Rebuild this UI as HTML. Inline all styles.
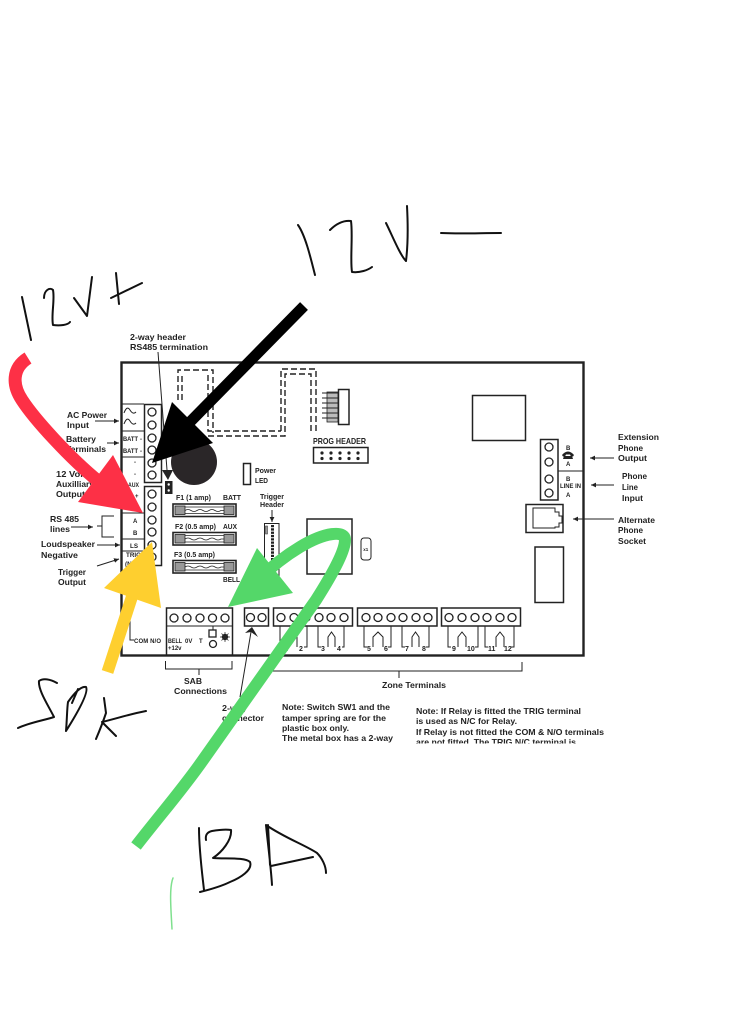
<!DOCTYPE html>
<html><head><meta charset="utf-8"><style>
html,body{margin:0;padding:0;background:#fff;width:750px;height:1024px;overflow:hidden}
svg{display:block;filter:blur(.3px)}
text{font-family:"Liberation Sans",sans-serif;font-weight:bold;font-size:8.5px;fill:#222}
.s{font-size:6px}
.n{font-size:7px}
.hw{fill:none;stroke:#111;stroke-width:2;stroke-linecap:round;stroke-linejoin:round}
.l{fill:none;stroke:#222;stroke-width:1}
.b{fill:#fff;stroke:#222;stroke-width:1.5}
.c{fill:#fff;stroke:#222;stroke-width:1.3}
.d{fill:none;stroke:#222;stroke-width:1.4;stroke-dasharray:6 3}
</style></head><body>
<svg width="750" height="1024" viewBox="0 0 750 1024" xmlns="http://www.w3.org/2000/svg">
<defs>
<clipPath id="nc"><rect x="270" y="695" width="350" height="48.500"/></clipPath>
<g id="fuse">
<rect x="0" y="0" width="63" height="12.5" fill="#fff" stroke="#222" stroke-width="1.6"/>
<rect x="2" y="2" width="10" height="8.5" fill="#999" stroke="#222" stroke-width=".8"/>
<rect x="51" y="2" width="10" height="8.5" fill="#999" stroke="#222" stroke-width=".8"/>
<path d="M12,3 H51 M12,9.5 H51" stroke="#222" stroke-width=".8" fill="none"/>
<path d="M12,6.5 q3,-2 6,0 t6,0 t6,0 t6,0 t6,0 t6,0 h3" stroke="#222" stroke-width=".8" fill="none"/>
</g>
<marker id="a" markerWidth="6" markerHeight="6" refX="5" refY="3" orient="auto"><path d="M0,.6 L5,3 L0,5.4 Z" fill="#222"/></marker>
</defs>

<!-- board -->
<rect x="121.5" y="362.5" width="462" height="293" fill="#fff" stroke="#222" stroke-width="2.4"/>

<!-- left panel -->
<path class="l" d="M121,404 H144 M121,431 H144 M121,457 H144 M121,513 H144 M121,539 H144 M121,551 H144"/>
<path class="l" stroke-width="1.2" d="M124,413 q3,-8 6,-3 t6,2 M124,424 q3,-8 6,-3 t6,2"/>
<rect class="b" x="144.5" y="404.5" width="17" height="78"/>
<rect class="b" x="144.5" y="486.5" width="17" height="79"/>
<g class="c">
<circle class="c" cx="152" cy="412" r="4"/><circle class="c" cx="152" cy="425" r="4"/><circle class="c" cx="152" cy="438" r="4"/><circle class="c" cx="152" cy="450" r="4"/><circle class="c" cx="152" cy="463" r="4"/><circle class="c" cx="152" cy="475" r="4"/>
<circle class="c" cx="152" cy="494" r="4"/><circle class="c" cx="152" cy="507" r="4"/><circle class="c" cx="152" cy="520" r="4"/><circle class="c" cx="152" cy="532" r="4"/><circle class="c" cx="152" cy="545" r="4"/><circle class="c" cx="152" cy="557" r="4"/>
</g>
<text class="s" x="123" y="441" textLength="15" lengthAdjust="spacingAndGlyphs">BATT</text><text class="s" x="140" y="441">-</text>
<text class="s" x="123" y="453" textLength="15" lengthAdjust="spacingAndGlyphs">BATT</text><text class="s" x="140" y="453">-</text>
<text class="s" x="134" y="464">-</text><text class="s" x="134" y="476">-</text>
<text class="s" x="128" y="487" textLength="11" lengthAdjust="spacingAndGlyphs">AUX</text>
<text class="s" x="135" y="498">+</text>
<text class="s" x="133" y="523">A</text><text class="s" x="133" y="535">B</text>
<text class="s" x="130" y="548" textLength="8" lengthAdjust="spacingAndGlyphs">LS</text>
<text class="s" x="126" y="557" textLength="15" lengthAdjust="spacingAndGlyphs">TRIG</text>
<text class="s" x="125" y="566" textLength="15" lengthAdjust="spacingAndGlyphs">(N/C)</text>
<path class="l" d="M130,590 V640 H134"/>
<text class="s" x="134" y="643" textLength="27" lengthAdjust="spacing">COM N/O</text>

<!-- left labels -->
<text x="67" y="418" textLength="40" lengthAdjust="spacingAndGlyphs">AC Power</text>
<text x="67" y="428" textLength="22" lengthAdjust="spacingAndGlyphs">Input</text>
<text x="66" y="442" textLength="30" lengthAdjust="spacingAndGlyphs">Battery</text>
<text x="66" y="452" textLength="40" lengthAdjust="spacingAndGlyphs">Terminals</text>
<text x="56" y="477" textLength="30" lengthAdjust="spacingAndGlyphs">12 Volt</text>
<text x="56" y="487" textLength="38" lengthAdjust="spacingAndGlyphs">Auxilliary</text>
<text x="56" y="497" textLength="29" lengthAdjust="spacingAndGlyphs">Output</text>
<text x="50" y="522" textLength="29" lengthAdjust="spacingAndGlyphs">RS 485</text>
<text x="50" y="532" textLength="20" lengthAdjust="spacingAndGlyphs">lines</text>
<text x="41" y="547" textLength="54" lengthAdjust="spacingAndGlyphs">Loudspeaker</text>
<text x="41" y="558" textLength="37" lengthAdjust="spacingAndGlyphs">Negative</text>
<text x="58" y="575" textLength="28" lengthAdjust="spacingAndGlyphs">Trigger</text>
<text x="58" y="585" textLength="28" lengthAdjust="spacingAndGlyphs">Output</text>
<text x="130" y="340" textLength="56" lengthAdjust="spacingAndGlyphs">2-way header</text>
<text x="130" y="350" textLength="78" lengthAdjust="spacingAndGlyphs">RS485 termination</text>
<path class="l" marker-end="url(#a)" d="M95,421 H119"/>
<path class="l" marker-end="url(#a)" d="M107,443 H119"/>
<path class="l" marker-end="url(#a)" d="M71,527 H93"/>
<path class="l" d="M97,526 H102 M114,516 H102 V537 H114"/>
<path class="l" marker-end="url(#a)" d="M97,545 H120"/>
<path class="l" marker-end="url(#a)" d="M97,566 L119,559"/>

<!-- RS485 header -->
<path class="l" d="M158,352 L167,470"/>
<path d="M162,470 H173 L168,480 Z" fill="#222"/>
<rect x="165" y="481" width="7.5" height="13" fill="#222"/>
<circle cx="168.7" cy="484.5" r="1.2" fill="#fff"/><circle cx="168.7" cy="490.5" r="1.2" fill="#fff"/>

<circle cx="194" cy="462" r="23" fill="#2a2628"/>

<!-- dashed -->
<path class="d" d="M178,400 V370 H213 V433"/>
<path class="d" d="M182,400 V375 M208,375 V431 H281 M208,436 H285 V374 H311 V432 M281,431 V369 H316 V432"/>

<!-- prog -->
<rect x="327" y="392" width="11" height="30" fill="#bbb" stroke="#222" stroke-width=".8"/>
<path class="l" d="M322,393 H338 M322,398 H338 M322,403 H338 M322,408 H338 M322,413 H338 M322,418 H338"/>
<rect class="b" x="338.5" y="389.5" width="10.5" height="35" stroke-width="1.2"/>
<text x="313" y="444" textLength="53" lengthAdjust="spacingAndGlyphs">PROG HEADER</text>
<rect class="b" x="313.5" y="447.5" width="54.5" height="15.5" stroke-width="1.2"/>
<g fill="#222">
<circle cx="322" cy="453" r="1.6"/><circle cx="331" cy="453" r="1.6"/><circle cx="340" cy="453" r="1.6"/><circle cx="349" cy="453" r="1.6"/><circle cx="358" cy="453" r="1.6"/>
<circle cx="322" cy="458.5" r="1.6"/><circle cx="331" cy="458.5" r="1.6"/><circle cx="340" cy="458.5" r="1.6"/><circle cx="349" cy="458.5" r="1.6"/><circle cx="358" cy="458.5" r="1.6"/>
</g>

<!-- LED -->
<rect class="b" x="243.5" y="463.5" width="7" height="21" stroke-width="1.2"/>
<text x="255" y="473" textLength="21" lengthAdjust="spacingAndGlyphs" style="font-size:7px">Power</text>
<text x="255" y="483" textLength="13" lengthAdjust="spacingAndGlyphs" style="font-size:7px">LED</text>

<!-- fuses -->
<use href="#fuse" x="173" y="504"/>
<use href="#fuse" x="173" y="532.5"/>
<use href="#fuse" x="173" y="560.5"/>
<text x="176" y="500" textLength="35" lengthAdjust="spacingAndGlyphs" style="font-size:7.5px">F1 (1 amp)</text>
<text x="223" y="500" textLength="18" lengthAdjust="spacingAndGlyphs" style="font-size:7.5px">BATT</text>
<text x="175" y="529" textLength="41" lengthAdjust="spacingAndGlyphs" style="font-size:7.5px">F2 (0.5 amp)</text>
<text x="223" y="529" textLength="14" lengthAdjust="spacingAndGlyphs" style="font-size:7.5px">AUX</text>
<text x="174" y="557" textLength="41" lengthAdjust="spacingAndGlyphs" style="font-size:7.5px">F3 (0.5 amp)</text>
<text x="223" y="582" textLength="17" lengthAdjust="spacingAndGlyphs" style="font-size:7.5px">BELL</text>

<!-- trigger header -->
<text x="260" y="499" textLength="24" lengthAdjust="spacingAndGlyphs" style="font-size:7px">Trigger</text>
<text x="260" y="507" textLength="24" lengthAdjust="spacingAndGlyphs" style="font-size:7px">Header</text>
<path class="l" marker-end="url(#a)" d="M272,510 V522"/>
<rect x="264.5" y="523.5" width="14.5" height="54" fill="#fff" stroke="#222" stroke-width="1"/>
<rect x="265.5" y="526" width="2" height="8" fill="#999" stroke="#222" stroke-width=".5"/>
<path d="M272.5,525 V572" stroke="#222" stroke-width="3" stroke-dasharray="2.3 1" fill="none"/>

<!-- chip -->
<rect class="b" x="307" y="519" width="45" height="55" stroke-width="1.2"/>
<rect x="361" y="538" width="10" height="22" rx="3" fill="#fff" stroke="#222" stroke-width="1"/>
<text x="363.3" y="551" style="font-size:4.5px">x1</text>

<!-- right -->
<rect class="b" x="472.5" y="395.5" width="53" height="45" stroke-width="1.2"/>
<rect class="b" x="540.5" y="439.5" width="17.5" height="60.5" stroke-width="1.3"/>
<circle class="c" cx="549" cy="447" r="4"/><circle class="c" cx="549" cy="462" r="4"/><circle class="c" cx="549" cy="479" r="4"/><circle class="c" cx="549" cy="493" r="4"/>
<path class="l" d="M558,471 H583"/>
<text class="s" x="566" y="450">B</text>
<path d="M562,455 q6,-7 12,0 l-1,1.5 h-2 l-1,-2 h-4 l-1,2 h-2 Z M564,456 h8 l1,3 h-10 Z" fill="#222"/>
<text class="s" x="566" y="466">A</text>
<text class="s" x="566" y="481">B</text>
<text class="s" x="560" y="488" textLength="21" lengthAdjust="spacingAndGlyphs">LINE IN</text>
<text class="s" x="566" y="497">A</text>
<rect class="b" x="526" y="504.5" width="37" height="28" stroke-width="1.3"/>
<path class="l" d="M533,508 H555 V512 H559 V516 H562 V523 H559 V527 H555 V528 H533 Z"/>
<rect class="b" x="535" y="547" width="28.5" height="55.5" stroke-width="1.2"/>
<text x="618" y="440" textLength="41" lengthAdjust="spacingAndGlyphs">Extension</text>
<text x="618" y="451" textLength="25" lengthAdjust="spacingAndGlyphs">Phone</text>
<text x="618" y="461" textLength="29" lengthAdjust="spacingAndGlyphs">Output</text>
<text x="622" y="479" textLength="25" lengthAdjust="spacingAndGlyphs">Phone</text>
<text x="622" y="490" textLength="16" lengthAdjust="spacingAndGlyphs">Line</text>
<text x="622" y="501" textLength="21" lengthAdjust="spacingAndGlyphs">Input</text>
<text x="618" y="523" textLength="37" lengthAdjust="spacingAndGlyphs">Alternate</text>
<text x="618" y="533" textLength="25" lengthAdjust="spacingAndGlyphs">Phone</text>
<text x="618" y="544" textLength="28" lengthAdjust="spacingAndGlyphs">Socket</text>
<path class="l" marker-end="url(#a)" d="M614,458 H590"/>
<path class="l" marker-end="url(#a)" d="M614,485 H591"/>
<path class="l" marker-end="url(#a)" d="M614,519 H573"/>

<!-- SAB -->
<rect class="b" x="166.5" y="608" width="66" height="47" stroke-width="1.2"/>
<path class="l" d="M166,626 H232" stroke-width="1.2"/>
<circle class="c" cx="174" cy="618" r="4"/><circle class="c" cx="187" cy="618" r="4"/><circle class="c" cx="200" cy="618" r="4"/><circle class="c" cx="212.500" cy="618" r="4"/><circle class="c" cx="225" cy="618" r="4"/>
<text class="s" x="168" y="643" textLength="14" lengthAdjust="spacingAndGlyphs">BELL</text>
<text class="s" x="185" y="643">0V</text><text class="s" x="199" y="643">T</text>
<text class="s" x="168" y="650">+12v</text>
<rect class="c" x="209" y="630" width="7" height="7" stroke-width="1"/>
<circle class="c" cx="213" cy="644" r="3.500" stroke-width="1"/>
<path class="l" d="M213,626 V630"/>
<circle cx="225" cy="637" r="3.200" fill="#222"/>
<path d="M225,632 V642 M220,637 H230 M221.500,633.500 L228.500,640.500 M228.500,633.500 L221.500,640.500" stroke="#222" stroke-width=".7"/>
<path class="l" d="M165.500,661 V669 H232 V661 M199,669 V675"/>
<text x="184" y="684" textLength="18" lengthAdjust="spacingAndGlyphs">SAB</text>
<text x="174" y="694" textLength="53" lengthAdjust="spacingAndGlyphs">Connections</text>

<!-- 2-way -->
<rect class="b" x="244.500" y="608" width="24" height="18" stroke-width="1.4"/>
<circle class="c" cx="250.500" cy="617.500" r="4"/><circle class="c" cx="262" cy="617.500" r="4"/>
<path class="l" d="M240,697 L251,632"/>
<path d="M252,627 L245,633 L251,632 L258,637 Z" fill="#222"/>
<text x="222" y="711" textLength="25" lengthAdjust="spacingAndGlyphs">2-way</text>
<text x="222" y="721" textLength="42" lengthAdjust="spacingAndGlyphs">connector</text>

<!-- zones -->
<rect class="b" x="273.500" y="608" width="79" height="18" stroke-width="1.4"/>
<rect class="b" x="357.500" y="608" width="79.500" height="18" stroke-width="1.4"/>
<rect class="b" x="441.500" y="608" width="79" height="18" stroke-width="1.4"/>
<circle class="c" cx="281" cy="617.500" r="4"/><circle class="c" cx="294" cy="617.500" r="4"/><circle class="c" cx="306" cy="617.500" r="4"/><circle class="c" cx="319" cy="617.500" r="4"/><circle class="c" cx="331" cy="617.500" r="4"/><circle class="c" cx="344" cy="617.500" r="4"/>
<circle class="c" cx="366" cy="617.500" r="4"/><circle class="c" cx="378" cy="617.500" r="4"/><circle class="c" cx="391" cy="617.500" r="4"/><circle class="c" cx="403" cy="617.500" r="4"/><circle class="c" cx="416" cy="617.500" r="4"/><circle class="c" cx="428" cy="617.500" r="4"/>
<circle class="c" cx="449" cy="617.500" r="4"/><circle class="c" cx="462" cy="617.500" r="4"/><circle class="c" cx="475" cy="617.500" r="4"/><circle class="c" cx="487" cy="617.500" r="4"/><circle class="c" cx="500" cy="617.500" r="4"/><circle class="c" cx="512" cy="617.500" r="4"/>
<path class="l" d="M280,626 V647 H283 M307,626 V647 H304 M289,647 V637 L293,632 L297,637 V647
M318,626 V647 H321 M344,626 V647 H342 M328,647 V637 L331.500,632 L335,637 V647
M364,626 V647 H367 M391,626 V647 H388 M373,647 V637 L378,632 L383,637 V647
M402,626 V647 H405 M429,626 V647 H426 M412,647 V637 L415.500,632 L419,637 V647
M448,626 V647 H451 M478,626 V647 H475 M458,647 V637 L462,632 L466,637 V647
M485,626 V647 H488 M514,626 V647 H511 M496,647 V637 L500,632 L504,637 V647"/>
<g style="font-size:6.500px">
<text class="n" x="284" y="651">1</text><text class="n" x="299" y="651">2</text><text class="n" x="321" y="651">3</text><text class="n" x="337" y="651">4</text>
<text class="n" x="367" y="651">5</text><text class="n" x="384" y="651">6</text><text class="n" x="405" y="651">7</text><text class="n" x="422" y="651">8</text>
<text class="n" x="452" y="651">9</text><text class="n" x="467" y="651">10</text><text class="n" x="488" y="651">11</text><text class="n" x="504" y="651">12</text>
</g>
<path class="l" d="M273,662 V671 H522 V662 M399,671 V678"/>
<text x="382" y="688" textLength="64" lengthAdjust="spacingAndGlyphs">Zone Terminals</text>

<!-- notes -->
<text x="282" y="710" textLength="108" lengthAdjust="spacingAndGlyphs">Note: Switch SW1 and the</text>
<text x="282" y="721" textLength="104" lengthAdjust="spacingAndGlyphs">tamper spring are for the</text>
<text x="282" y="731" textLength="67" lengthAdjust="spacingAndGlyphs">plastic box only.</text>
<text x="282" y="741" textLength="111" lengthAdjust="spacingAndGlyphs">The metal box has a 2-way</text>
<g clip-path="url(#nc)">
<text x="416" y="714" textLength="165" lengthAdjust="spacingAndGlyphs">Note: If Relay is fitted the TRIG terminal</text>
<text x="416" y="724" textLength="101" lengthAdjust="spacingAndGlyphs">is used as N/C for Relay.</text>
<text x="416" y="735" textLength="188" lengthAdjust="spacingAndGlyphs">If Relay is not fitted the COM &amp; N/O terminals</text>
<text x="416" y="745" textLength="160" lengthAdjust="spacingAndGlyphs">are not fitted. The TRIG N/C terminal is</text>
</g>

<!-- arrows -->
<path d="M304,306 L190,422" stroke="#000" stroke-width="11" fill="none"/>
<path d="M152,463 L172,402 L213,443 Z" fill="#000"/>
<path d="M28,358 C12,368 12,385 22,400 C35,420 70,458 98,481" stroke="#fd3046" stroke-width="13" fill="none"/>
<path d="M143,513 L113,455 L78,502 Z" fill="#fd3046"/>
<path d="M107.500,672 L132.500,595" stroke="#fecf2f" stroke-width="12" fill="none"/>
<path d="M152,542 L104,588 L161,608 Z" fill="#fecf2f"/>
<path d="M136,846 C160,815 182,790 203,760 L316,600 C335,570 345,550 345,540 C345,530 325,532 300,547 C285,556 270,568 258,580" stroke="#54d769" stroke-width="12" fill="none"/>
<path d="M228,607 L257,548 L293,593 Z" fill="#54d769"/>

<!-- handwriting -->
<path class="hw" d="M22,297 L31,340 M44,298 C44,290 50,287 53,290 C55,300 51,315 53,325 C60,326 68,325 70,322 M74,298 L87,316 L92,277 M116,273 L119,304 M111,298 L142,283"/>
<path class="hw" d="M298,225 C305,235 310,255 315,275 M330,230 C335,225 342,220 351,221 C353,235 350,260 352,272 C360,273 368,270 372,267 M386,223 C392,235 400,255 406,261 C408,245 408,225 407,206 M441,233 C460,234 480,233 501,233"/>
<path class="hw" d="M57,683 C50,679 43,678 39,681 C38,690 48,705 54,717 C45,720 28,723 18,728 M66,731 C67,720 67,708 68,702 C73,695 80,686 86,687 C89,692 78,712 66,731 M78,689 L72,703 M104,698 L106,713 C103,722 99,732 96,739 M146,711 C130,714 115,719 102,722 L116,736"/>
<path class="hw" d="M199,828 C199,850 202,872 204,890 M206,840 C205,834 208,832 212,831 C218,830 225,829 231,830 C232,840 222,852 213,858 C225,859 245,857 250,862 C253,870 240,878 230,882 C220,887 208,890 200,892 M266,825 C268,845 271,868 272,885 M268,825 L270,865 M266,825 C285,838 305,845 317,853 C322,858 326,866 326,873 M271,866 L313,857"/>
<path d="M173,878 C169,888 171,910 172,929" fill="none" stroke="#7fe08e" stroke-width="1.500" stroke-linecap="round"/>
</svg>
</body></html>
